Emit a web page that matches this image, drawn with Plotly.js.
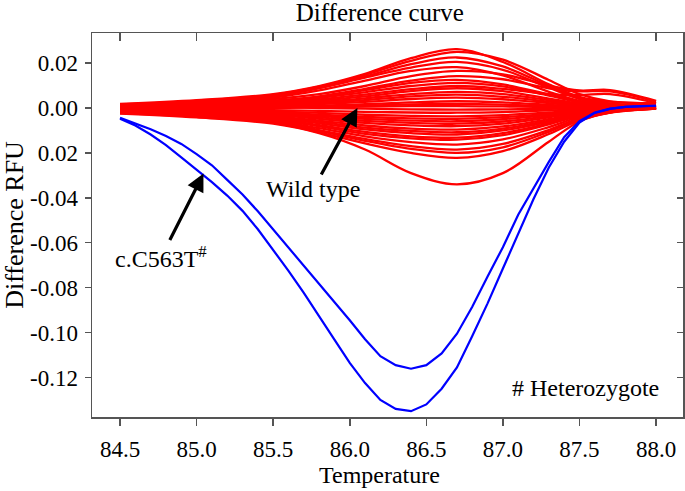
<!DOCTYPE html>
<html>
<head>
<meta charset="utf-8">
<script src="https://cdn.plot.ly/plotly-3.0.1.min.js"></script>
<style>html,body{margin:0;padding:0;background:#fff;}#chart{width:685px;height:491px;}</style>
</head>
<body>
<div id="chart"></div>
<script>
// Temperature grid for heterozygote (blue) curves, 0.1 °C steps
const tempBlue = [84.5,84.6,84.7,84.8,84.9,85.0,85.1,85.2,85.3,85.4,85.5,85.6,85.7,85.8,85.9,86.0,86.1,86.2,86.3,86.4,86.5,86.6,86.7,86.8,86.9,87.0,87.1,87.2,87.3,87.4,87.5,87.6,87.7,87.8,87.9,88.0];
const hetUpper = [-0.0044,-0.0068,-0.0095,-0.0125,-0.0160,-0.0205,-0.0255,-0.0320,-0.0385,-0.0460,-0.0540,-0.0620,-0.0703,-0.0785,-0.0865,-0.0945,-0.1030,-0.1105,-0.1145,-0.1161,-0.1145,-0.1093,-0.1005,-0.0885,-0.0750,-0.0620,-0.0475,-0.0355,-0.0240,-0.0130,-0.0058,-0.0020,-0.0003,0.0005,0.0008,0.0010];
const hetLower = [-0.0048,-0.0078,-0.0118,-0.0165,-0.0220,-0.0275,-0.0330,-0.0390,-0.0458,-0.0540,-0.0630,-0.0725,-0.0823,-0.0925,-0.1031,-0.1135,-0.1225,-0.1300,-0.1340,-0.1350,-0.1320,-0.1250,-0.1155,-0.1015,-0.0870,-0.0715,-0.0560,-0.0405,-0.0265,-0.0150,-0.0065,-0.0022,-0.0004,0.0005,0.0008,0.0010];

// Temperature grid for wild type (red) curves
const tempRed = [84.5,85.0,85.5,85.8,86.1,86.4,86.7,87.0,87.3,87.5,87.7,88.0];
const wildTypeCurves = [
 [0.0018,0.0035,0.0062,0.0098,0.0152,0.0222,0.0262,0.0205,0.0105,0.0050,0.0028,0.0020],
 [0.0016,0.0032,0.0058,0.0095,0.0148,0.0210,0.0250,0.0215,0.0125,0.0062,0.0030,0.0022],
 [0.0014,0.0028,0.0055,0.0090,0.0140,0.0195,0.0225,0.0185,0.0098,0.0045,0.0020,0.0012],
 [0.0012,0.0026,0.0052,0.0088,0.0135,0.0180,0.0205,0.0170,0.0090,0.0040,0.0016,0.0008],
 [0.0010,0.0022,0.0046,0.0078,0.0122,0.0165,0.0182,0.0145,0.0072,0.0032,0.0012,0.0005],
 [0.0009,0.0020,0.0040,0.0062,0.0098,0.0142,0.0165,0.0150,0.0100,0.0078,0.0080,0.0032],
 [0.0008,0.0017,0.0033,0.0052,0.0085,0.0122,0.0142,0.0128,0.0088,0.0074,0.0074,0.0028],
 [0.0007,0.0015,0.0030,0.0050,0.0080,0.0112,0.0125,0.0105,0.0060,0.0030,0.0014,0.0008],
 [0.0006,0.0013,0.0026,0.0045,0.0070,0.0098,0.0112,0.0096,0.0055,0.0026,0.0012,0.0006],
 [0.0005,0.0011,0.0022,0.0038,0.0060,0.0084,0.0098,0.0085,0.0062,0.0058,0.0062,0.0022],
 [0.0004,0.0010,0.0020,0.0033,0.0052,0.0075,0.0088,0.0075,0.0042,0.0020,0.0009,0.0005],
 [0.0004,0.0008,0.0016,0.0027,0.0043,0.0062,0.0072,0.0062,0.0035,0.0016,0.0007,0.0004],
 [0.0003,0.0007,0.0013,0.0022,0.0035,0.0052,0.0060,0.0050,0.0028,0.0013,0.0006,0.0003],
 [0.0002,0.0005,0.0010,0.0017,0.0027,0.0040,0.0046,0.0039,0.0022,0.0010,0.0005,0.0003],
 [0.0001,0.0003,0.0007,0.0011,0.0017,0.0025,0.0030,0.0025,0.0014,0.0007,0.0003,0.0002],
 [0.0000,0.0002,0.0004,0.0007,0.0011,0.0016,0.0018,0.0015,0.0008,0.0004,0.0002,0.0001],
 [-0.0010,-0.0006,0.0000,0.0003,0.0006,0.0008,0.0008,0.0007,0.0004,0.0002,0.0001,0.0001],
 [0.0010,0.0008,0.0004,0.0000,-0.0003,-0.0006,-0.0007,-0.0006,-0.0004,-0.0002,0.0000,0.0001],
 [-0.0003,-0.0006,-0.0010,-0.0013,-0.0017,-0.0020,-0.0021,-0.0018,-0.0011,-0.0005,-0.0002,0.0000],
 [-0.0005,-0.0009,-0.0016,-0.0022,-0.0030,-0.0035,-0.0037,-0.0032,-0.0020,-0.0010,-0.0004,0.0000],
 [-0.0006,-0.0011,-0.0020,-0.0030,-0.0040,-0.0046,-0.0048,-0.0041,-0.0025,-0.0012,-0.0005,0.0000],
 [-0.0008,-0.0013,-0.0024,-0.0036,-0.0048,-0.0056,-0.0059,-0.0050,-0.0030,-0.0015,-0.0006,0.0000],
 [-0.0009,-0.0015,-0.0028,-0.0042,-0.0057,-0.0066,-0.0070,-0.0060,-0.0036,-0.0017,-0.0007,0.0000],
 [-0.0010,-0.0017,-0.0032,-0.0048,-0.0066,-0.0077,-0.0081,-0.0070,-0.0042,-0.0020,-0.0008,0.0000],
 [-0.0012,-0.0020,-0.0037,-0.0056,-0.0078,-0.0092,-0.0096,-0.0082,-0.0050,-0.0024,-0.0010,-0.0001],
 [-0.0013,-0.0022,-0.0040,-0.0062,-0.0087,-0.0102,-0.0108,-0.0092,-0.0056,-0.0027,-0.0011,-0.0001],
 [-0.0014,-0.0024,-0.0044,-0.0068,-0.0095,-0.0112,-0.0118,-0.0100,-0.0062,-0.0030,-0.0012,-0.0002],
 [-0.0016,-0.0027,-0.0048,-0.0076,-0.0106,-0.0126,-0.0132,-0.0112,-0.0068,-0.0033,-0.0013,-0.0002],
 [-0.0017,-0.0029,-0.0052,-0.0082,-0.0115,-0.0135,-0.0141,-0.0121,-0.0073,-0.0035,-0.0014,-0.0002],
 [-0.0018,-0.0031,-0.0056,-0.0090,-0.0126,-0.0152,-0.0163,-0.0140,-0.0085,-0.0040,-0.0015,-0.0002],
 [-0.0020,-0.0034,-0.0060,-0.0098,-0.0138,-0.0170,-0.0185,-0.0160,-0.0098,-0.0045,-0.0018,-0.0003],
 [-0.0021,-0.0036,-0.0062,-0.0102,-0.0146,-0.0182,-0.0200,-0.0175,-0.0106,-0.0050,-0.0020,-0.0003],
 [-0.0023,-0.0039,-0.0066,-0.0108,-0.0158,-0.0200,-0.0222,-0.0192,-0.0116,-0.0055,-0.0021,-0.0003],
 [-0.0025,-0.0042,-0.0070,-0.0112,-0.0185,-0.0290,-0.0340,-0.0290,-0.0150,-0.0060,-0.0020,-0.0003]
];

// Axis ticks
const xTickVals = [84.5,85.0,85.5,86.0,86.5,87.0,87.5,88.0];
const xTickText = ['84.5','85.0','85.5','86.0','86.5','87.0','87.5','88.0'];
const yTickVals = [0.02,0.00,-0.02,-0.04,-0.06,-0.08,-0.10,-0.12];
const yTickText = ['0.02','0.00','0.02','-0.04','-0.06','-0.08','-0.10','-0.12'];

const FONT = '"Liberation Serif", "Times New Roman", serif';
const X_RANGE = [84.317, 88.176];
const Y_RANGE = [-0.1376, 0.0334];

const traces = [];
wildTypeCurves.forEach(function (vals) {
  traces.push({x: tempRed, y: vals, type: 'scatter', mode: 'lines',
    line: {color: '#ff0000', width: 2.3, shape: 'spline', smoothing: 1},
    showlegend: false, hoverinfo: 'skip'});
});
[hetUpper, hetLower].forEach(function (vals) {
  traces.push({x: tempBlue, y: vals, type: 'scatter', mode: 'lines',
    line: {color: '#0000ff', width: 2.2}, showlegend: false, hoverinfo: 'skip'});
});
// empty trace so the mirrored tick axes get a subplot
traces.push({x: [], y: [], xaxis: 'x2', yaxis: 'y2', type: 'scatter', mode: 'lines', showlegend: false});

const axisCommon = {showgrid: false, zeroline: false, showline: true, linecolor: '#555', linewidth: 1.5,
  tickcolor: '#555', tickwidth: 1.5, tickfont: {family: FONT, size: 23, color: '#000'}};

const layout = {
  width: 685, height: 491,
  margin: {l: 92, r: 2, t: 33, b: 74},
  paper_bgcolor: '#fff', plot_bgcolor: '#fff',
  font: {family: FONT, color: '#000'},
  title: {text: 'Difference curve', font: {family: FONT, size: 25, color: '#000'},
    x: 0.487, xref: 'paper', xanchor: 'center', y: 0.976, yref: 'container', yanchor: 'middle'},
  xaxis: Object.assign({}, axisCommon, {range: X_RANGE, tickvals: xTickVals, ticktext: xTickText,
    ticks: 'outside', ticklen: 7, ticklabelstandoff: 4}),
  yaxis: Object.assign({}, axisCommon, {range: Y_RANGE, tickvals: yTickVals, ticktext: yTickText,
    ticks: 'outside', ticklen: 6, ticklabelstandoff: 2,
    title: {text: 'Difference RFU', font: {family: FONT, size: 26, color: '#000'}, standoff: 4}}),
  xaxis2: Object.assign({}, axisCommon, {range: X_RANGE, overlaying: 'x', side: 'top', anchor: 'y2',
    tickvals: xTickVals, ticks: 'inside', ticklen: 8, showticklabels: false}),
  yaxis2: Object.assign({}, axisCommon, {range: Y_RANGE, overlaying: 'y', side: 'right', anchor: 'x2',
    tickvals: yTickVals, ticks: 'inside', ticklen: 6, showticklabels: false}),
  annotations: [
    {x: 0.487, y: -0.152, xref: 'paper', yref: 'paper', text: 'Temperature', showarrow: false,
      font: {family: FONT, size: 24, color: '#000'}, xanchor: 'center', yanchor: 'middle'},
    {x: 86.05, y: 0.0000, xref: 'x', yref: 'y', text: 'Wild type', showarrow: true,
      ax: -44, ay: 81, arrowhead: 2, arrowsize: 1.1, arrowwidth: 3.2, arrowcolor: '#000', standoff: 0,
      font: {family: FONT, size: 24, color: '#000'}},
    {x: 85.045, y: -0.0292, xref: 'x', yref: 'y', text: 'c.C563T<sup>#</sup>', showarrow: true,
      ax: -42, ay: 83, arrowhead: 2, arrowsize: 1.1, arrowwidth: 3.2, arrowcolor: '#000', standoff: 0,
      font: {family: FONT, size: 24, color: '#000'}},
    {x: 88.03, y: -0.1246, xref: 'x', yref: 'y', text: '# Heterozygote', showarrow: false,
      font: {family: FONT, size: 24, color: '#000'}, xanchor: 'right', yanchor: 'middle'}
  ]
};

Plotly.newPlot('chart', traces, layout, {displayModeBar: false, staticPlot: true});
</script>
</body>
</html>
